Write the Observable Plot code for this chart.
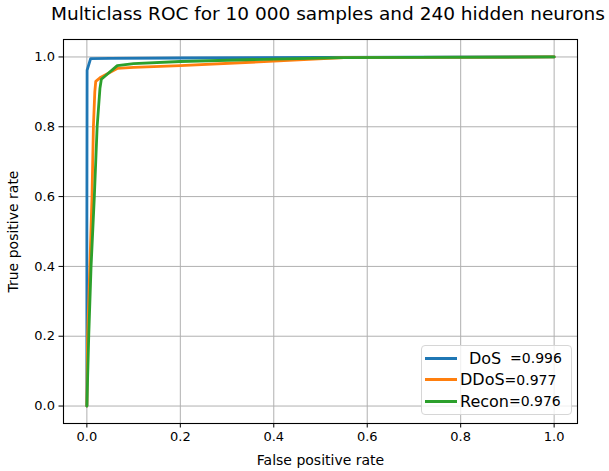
<!DOCTYPE html>
<html>
<head>
<meta charset="utf-8">
<script src="https://cdn.jsdelivr.net/npm/d3@7"></script>
<script src="https://cdn.jsdelivr.net/npm/@observablehq/plot@0.6"></script>
<style>
  html, body { margin: 0; padding: 0; background: #fff; }
  #wrap { position: relative; width: 609px; height: 471px; font-family: "DejaVu Sans", sans-serif; }
  #title { position: absolute; left: 0; width: 656px; top: 5px; line-height: 1; text-align: center; font-size: 18.5px; color: #000; white-space: nowrap; }
  #legend { position: absolute; left: 421px; top: 345px; width: 151px; height: 70px; box-sizing: border-box;
            border: 1px solid #d6d6d6; border-radius: 4px; background: rgba(255,255,255,0.8); }
  .row { position: absolute; left: 0; height: 20px; display: flex; align-items: center; white-space: pre; color: #000; }
  .swatch { width: 32px; height: 3px; margin-left: 3px; margin-right: 3px; }
  .nm { font-size: 16px; }
  .val { font-size: 14px; }
</style>
</head>
<body>
<div id="wrap">
  <div id="plot"></div>
  <div id="title"></div>
  <div id="legend"></div>
</div>
<script>
const titleText = "Multiclass ROC for 10 000 samples and 240 hidden neurons";
const xLabel = "False positive rate";
const yLabel = "True positive rate";
const seriesNames = ["DoS", "DDoS", "Recon"];
const legendNames = ["  DoS  ", "DDoS", "Recon"];
const aucValues = ["0.996", "0.977", "0.976"];
const colors = ["#1f77b4", "#ff7f0e", "#2ca02c"];
const ticks = [0, 0.2, 0.4, 0.6, 0.8, 1.0];

const dosFpr = [0, 0, 0.0005, 0.008, 0.05, 0.2, 0.5, 1.0];
const dosTpr = [0, 0.5, 0.962, 0.995, 0.996, 0.997, 0.999, 1.0];

const ddosFpr = [0, 0.0015, 0.0064, 0.011, 0.014, 0.017, 0.019, 0.03, 0.065, 0.1, 0.2, 0.4, 0.55, 0.7, 1.0];
const ddosTpr = [0, 0.2, 0.4, 0.6, 0.8, 0.9, 0.93, 0.942, 0.967, 0.97, 0.975, 0.988, 0.998, 0.999, 1.0];

const reconFpr = [0, 0.004, 0.009, 0.016, 0.022, 0.028, 0.031, 0.065, 0.1, 0.2, 0.4, 0.55, 0.7, 1.0];
const reconTpr = [0, 0.2, 0.4, 0.6, 0.8, 0.91, 0.936, 0.975, 0.981, 0.987, 0.994, 0.998, 0.999, 1.0];

const curves = [[dosFpr, dosTpr], [ddosFpr, ddosTpr], [reconFpr, reconTpr]];
const rows = curves.flatMap(([f, t], i) => f.map((x, j) => ({series: seriesNames[i], fpr: x, tpr: t[j]})));

const fmt = d3.format(".1f");
const chart = Plot.plot({
  width: 609,
  height: 471,
  marginLeft: 63,
  marginRight: 32,
  marginTop: 39,
  marginBottom: 48,
  style: {fontFamily: "DejaVu Sans, sans-serif", fontSize: "13px", color: "#000", background: "#fff"},
  x: {domain: [-0.05, 1.05]},
  y: {domain: [-0.05, 1.05]},
  color: {domain: seriesNames, range: colors},
  marks: [
    Plot.gridX(ticks, {stroke: "#b0b0b0", strokeOpacity: 1, strokeWidth: 1}),
    Plot.gridY(ticks, {stroke: "#b0b0b0", strokeOpacity: 1, strokeWidth: 1}),
    Plot.axisX(ticks, {tickFormat: fmt, tickSize: 4.5, tickPadding: 4, fontSize: 13, stroke: "#000", label: null}),
    Plot.axisY(ticks, {tickFormat: fmt, tickSize: 4.5, tickPadding: 4, fontSize: 13, stroke: "#000", label: null}),
    Plot.axisX([], {tickSize: 0, fontSize: 14, label: xLabel, labelAnchor: "center", labelArrow: "none", labelOffset: 41}),
    Plot.axisY([], {tickSize: 0, fontSize: 14, label: yLabel, labelAnchor: "center", labelArrow: "none", labelOffset: 55}),
    Plot.line(rows, {x: "fpr", y: "tpr", z: "series", stroke: "series", strokeWidth: 2.8, strokeLinejoin: "round"}),
    Plot.frame({stroke: "#000", strokeWidth: 1.1})
  ]
});
document.getElementById("plot").appendChild(chart);
document.getElementById("title").textContent = titleText;

const legend = document.getElementById("legend");
const rowTops = [2, 23.5, 45];
seriesNames.forEach((s, i) => {
  const m = legendNames[i].match(/^(\s*)(.*?)(\s*)$/);
  const r = document.createElement("div");
  r.className = "row";
  r.style.top = rowTops[i] + "px";
  r.innerHTML = `<span class="swatch" style="background:${colors[i]}"></span><span class="val">${m[1]}</span><span class="nm">${m[2]}</span><span class="val">${m[3]}=${aucValues[i]}</span>`;
  legend.appendChild(r);
});
</script>
</body>
</html>
